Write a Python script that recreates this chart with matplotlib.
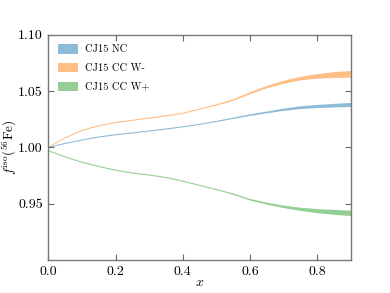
import numpy as np
import matplotlib
matplotlib.use("Agg")
import matplotlib.pyplot as plt
from matplotlib.ticker import FormatStrFormatter

plt.rcParams['font.family'] = 'serif'
plt.rcParams['font.serif'] = ['cmr10', 'DejaVu Serif']
plt.rcParams['mathtext.fontset'] = 'cm'
plt.rcParams['axes.formatter.use_mathtext'] = True
plt.rcParams['axes.unicode_minus'] = False

x = [0.0, 0.05, 0.1, 0.15, 0.2, 0.25, 0.3, 0.35, 0.4, 0.45,
     0.5, 0.55, 0.6, 0.65, 0.7, 0.75, 0.8, 0.85, 0.9]

nc_mid = [1.000, 1.0035, 1.0065, 1.0092, 1.0112, 1.0128, 1.0145, 1.0163, 1.0182, 1.0204,
          1.0230, 1.0258, 1.0286, 1.0310, 1.0334, 1.0352, 1.0363, 1.0370, 1.0376]
nc_err = [0.0005, 0.0005, 0.0005, 0.0005, 0.0005, 0.0005, 0.0005, 0.0005, 0.0005, 0.0005,
          0.0005, 0.0006, 0.0007, 0.0008, 0.0010, 0.0012, 0.0014, 0.0016, 0.0018]

wm_mid = [1.000, 1.0085, 1.0150, 1.0192, 1.0220, 1.0240, 1.0260, 1.0280, 1.0302, 1.0340,
          1.0376, 1.0420, 1.0480, 1.0535, 1.0578, 1.0610, 1.0630, 1.0642, 1.0648]
wm_err = [0.0005, 0.0005, 0.0005, 0.0005, 0.0005, 0.0005, 0.0005, 0.0005, 0.0005, 0.0005,
          0.0006, 0.0007, 0.0009, 0.0011, 0.0013, 0.0016, 0.0020, 0.0026, 0.0030]

wp_mid = [0.997, 0.9915, 0.9868, 0.9830, 0.9797, 0.9772, 0.9754, 0.9732, 0.9700, 0.9663,
          0.9625, 0.9585, 0.9535, 0.9500, 0.9472, 0.9450, 0.9434, 0.9423, 0.9414]
wp_err = [0.0005, 0.0005, 0.0005, 0.0005, 0.0005, 0.0005, 0.0005, 0.0005, 0.0005, 0.0005,
          0.0005, 0.0006, 0.0007, 0.0009, 0.0011, 0.0014, 0.0018, 0.0022, 0.0024]

labels = ['CJ15 NC', 'CJ15 CC W-', 'CJ15 CC W+']
colors = ['tab:blue', 'tab:orange', 'tab:green']

xticks = [0.0, 0.2, 0.4, 0.6, 0.8]
yticks = [0.95, 1.00, 1.05, 1.10]

fig = plt.figure(figsize=(3.9, 2.93), dpi=100)
ax = fig.add_axes([0.124, 0.1126, 0.776, 0.769])

xa = np.array(x)
for mid, err, lab, col in zip([nc_mid, wm_mid, wp_mid], [nc_err, wm_err, wp_err], labels, colors):
    m = np.array(mid)
    e = np.array(err)
    ax.fill_between(xa, m - e, m + e, facecolor=col, alpha=0.5, lw=0, label=lab)

ax.set_xlim(0, 0.9)
ax.set_ylim(0.90, 1.10)
ax.set_xticks(xticks)
ax.set_yticks(yticks)
ax.xaxis.set_major_formatter(FormatStrFormatter('%.1f'))
ax.yaxis.set_major_formatter(FormatStrFormatter('%.2f'))
ax.tick_params(direction='in', top=True, right=True, labelsize=10,
               color='#666666', length=4, width=0.8, pad=4)
for sp in ax.spines.values():
    sp.set_color('#777777')
    sp.set_linewidth(1.0)

ax.set_xlabel(r'$x$', fontsize=10)
ax.set_ylabel(r'$f^{\rm iso}(^{56}{\rm Fe})$', fontsize=9.5)
ax.xaxis.set_label_coords(0.5, -0.075)
ax.yaxis.set_label_coords(-0.1, 0.5)

ax.legend(loc='upper left', frameon=False, fontsize=7.5, handlelength=1.9,
          handleheight=1.05, labelspacing=0.8, handletextpad=0.7)

fig.savefig('out.png', dpi=100)
